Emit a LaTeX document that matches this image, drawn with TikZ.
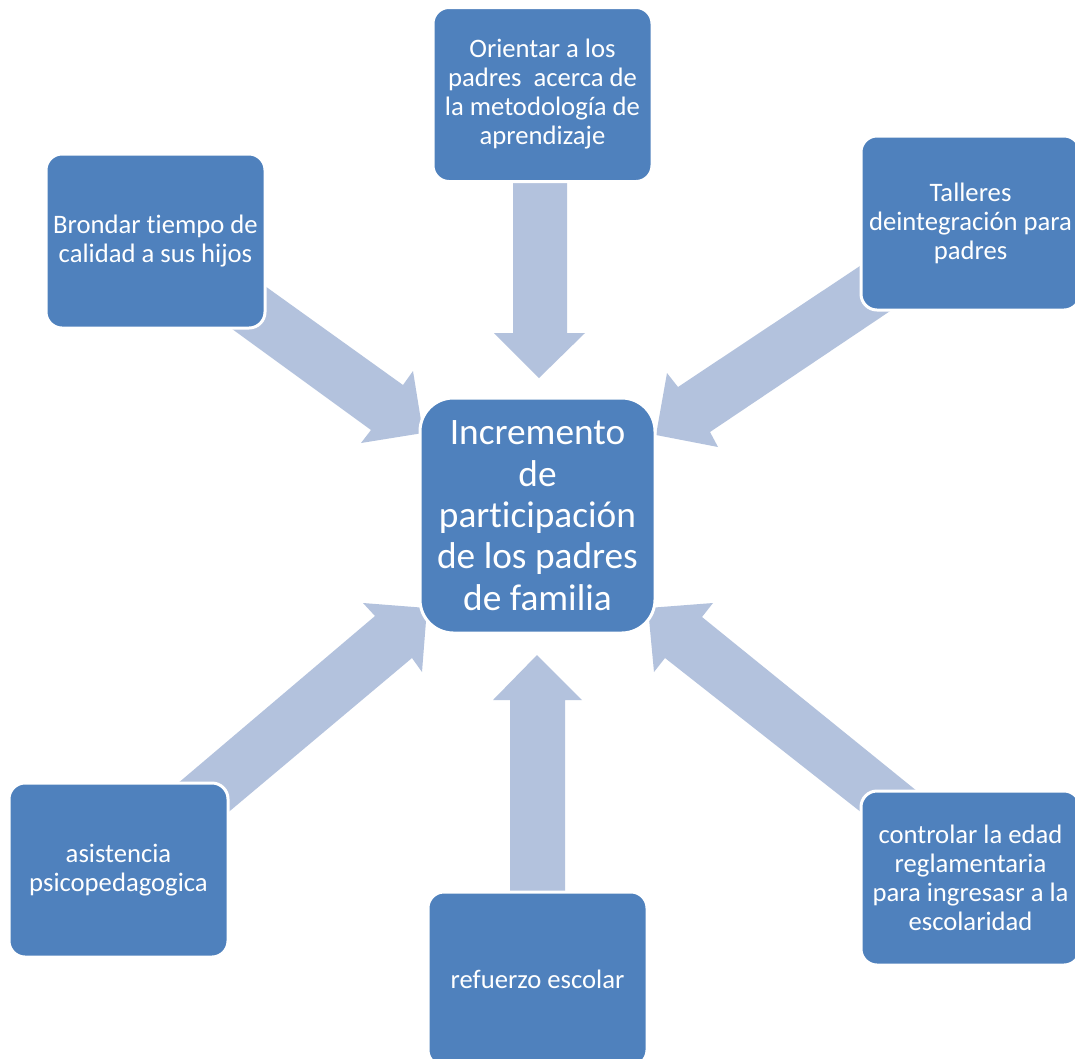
\documentclass[tikz,border=0pt]{standalone}
\usepackage{fontspec}
\setmainfont{Carlito}[Ligatures={NoCommon,NoRequired}]
\definecolor{boxblue}{HTML}{4F81BD}
\definecolor{arrowblue}{HTML}{B3C2DD}
\begin{document}
\begin{tikzpicture}[x=0.75pt,y=-0.75pt,
  smallbox/.style={rectangle, rounded corners=12pt, fill=boxblue, draw=white, line width=2.25pt,
    minimum width=164.25pt, minimum height=130.5pt, text=white, align=center, inner sep=0pt,
    font=\fontsize{20}{21.75}\selectfont},
  bigbox/.style={smallbox, rounded corners=25pt, minimum width=176.25pt, minimum height=176.25pt,
    font=\fontsize{28}{31}\selectfont},
  blockarrow/.style={fill=arrowblue, draw=none}]
\useasboundingbox (0,0) rectangle (1075,1058);
\clip (0,0) rectangle (1075,1058);
\fill[white] (0,0) rectangle (1075,1058);
% block arrows
\fill[blockarrow] (513,182) -- (513,333) -- (494,333) -- (539,378) -- (585,333) -- (567,333) -- (567,182) -- cycle;
\fill[blockarrow] (510,895) -- (510,700) -- (493,700) -- (537,655) -- (582,700) -- (565,700) -- (565,895) -- cycle;
\fill[blockarrow] (251,276) -- (403,385) -- (413,371) -- (423,433) -- (361,443) -- (371,430) -- (217,318) -- cycle;
\fill[blockarrow] (884,250) -- (678,387) -- (667,373) -- (656,435) -- (718,447) -- (710,432) -- (911,297) -- cycle;
\fill[blockarrow] (157,801) -- (375,616) -- (363,603) -- (427,608) -- (422,672) -- (412,658) -- (206,831) -- cycle;
\fill[blockarrow] (928,800) -- (702,617) -- (713,603) -- (648,608) -- (654,672) -- (665,658) -- (885,831) -- cycle;
% boxes
\node[bigbox] (cc) at (537.5,515.5) {Incremento\\de\\participación\\de los padres\\de familia};
\node[smallbox] (tb) at (542.5,94.5) {Orientar a los\\padres\ \ acerca de\\la metodología de\\aprendizaje};
\node[smallbox] (tl) at (155.5,241) {Brondar tiempo de\\calidad a sus hijos};
\node[smallbox] (tr) at (970.5,223) {Talleres\\deintegración para\\padres};
\node[smallbox] (bl) at (118.5,870) {asistencia\\psicopedagogica};
\node[smallbox] (bb) at (537.5,979) {refuerzo escolar};
\node[smallbox] (br) at (970.5,878) {controlar la edad\\reglamentaria\\para ingresasr a la\\escolaridad};
\end{tikzpicture}
\end{document}
